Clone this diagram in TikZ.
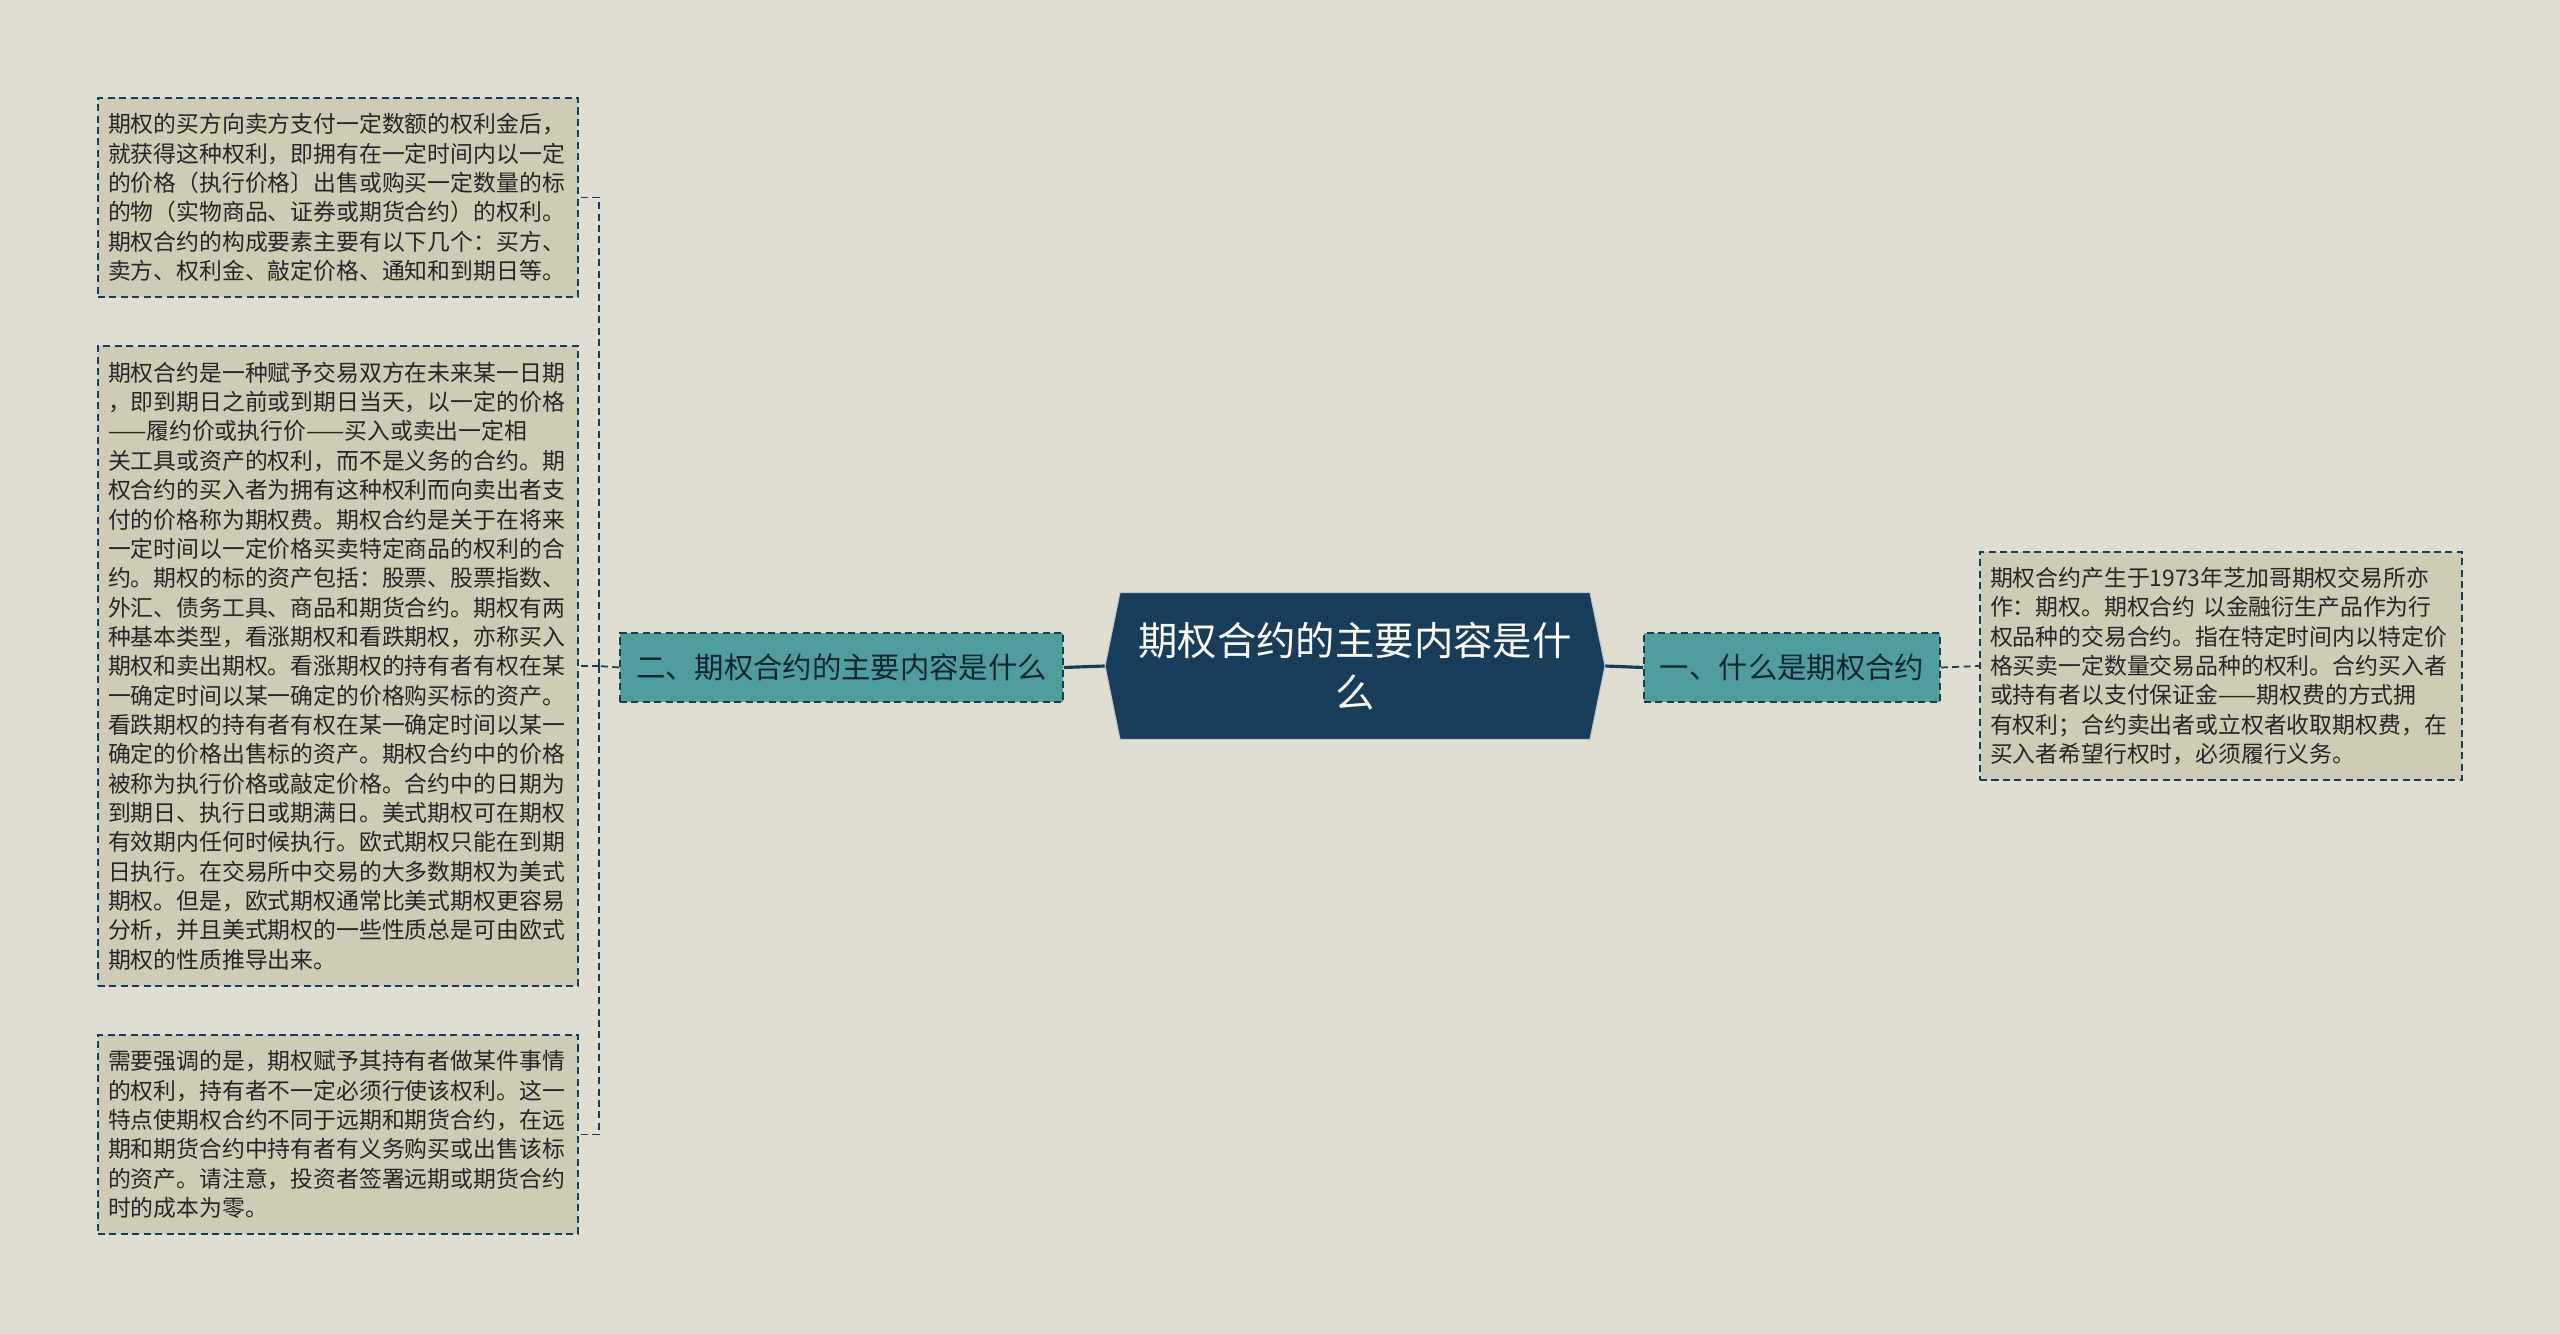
\documentclass[tikz,border=0pt]{standalone}
\usepackage{fontspec}
\usepackage{xcolor}
\usepackage{tikz}
\setmainfont{Noto Sans CJK SC}
\definecolor{pagebg}{RGB}{223,222,208}
\definecolor{boxfill}{RGB}{206,204,180}
\definecolor{teal}{RGB}{80,158,155}
\definecolor{navy}{RGB}{23,61,91}
\definecolor{ink}{RGB}{38,38,38}

\tikzset{
	leafbox/.style={draw=navy,dashed,line width=0.9pt,dash pattern=on 4pt off 2.5pt,fill=boxfill,text=ink,align=left,inner sep=0.2cm,text width=9.2cm,font=\fontsize{13}{16.7}\selectfont},
	branchbox/.style={draw=navy,dashed,line width=0.9pt,dash pattern=on 4pt off 2.5pt,fill=teal,text=navy!60!black,minimum height=1.38cm,inner sep=0pt,font=\fontsize{16.7}{20}\selectfont},
	rootbox/.style={text=white,align=center,minimum width=10cm,minimum height=2.94cm,inner sep=0pt,font=\fontsize{22.4}{29.7}\selectfont},
	link/.style={draw=navy,line width=1.8pt},
	dlink/.style={draw=navy,line width=1pt,dash pattern=on 4pt off 2.5pt}
}

\begin{document}
\begin{tikzpicture}[x=0.02cm,y=-0.02cm]
					\useasboundingbox (0,0) rectangle (2560,1334);
					\fill[pagebg] (0,0) rectangle (2560,1334);
					\coordinate (rootc) at (1355,666);
					\coordinate (lfork) at (599,666);
					
					\fill[navy,draw=white!70!navy,line width=0.6pt] ([xshift=-5cm]rootc) -- ([xshift=-4.7cm,yshift=1.47cm]rootc) -- ([xshift=4.7cm,yshift=1.47cm]rootc) -- ([xshift=5cm]rootc) -- ([xshift=4.7cm,yshift=-1.47cm]rootc) -- ([xshift=-4.7cm,yshift=-1.47cm]rootc) -- cycle;
					\node (root) at (rootc) [rootbox] {期权合约的主要内容是什\\么};
					
					\node (lbranch) at (841.5,667.5) [branchbox,minimum width=8.86cm] {二、期权合约的主要内容是什么};
					\node (rbranch) at (1792,667.5) [branchbox,minimum width=5.92cm] {一、什么是期权合约};
					
					\node (lleaf1) at (338,197.5) [leafbox,minimum height=3.98cm] {期权的买方向卖方支付一定数额的权利金后，\\就获得这种权利，即拥有在一定时间内以一定\\的价格（执行价格〕出售或购买一定数量的标\\的物（实物商品、证券或期货合约）的权利。\\期权合约的构成要素主要有以下几个：买方、\\卖方、权利金、敲定价格、通知和到期日等。};
					\node (lleaf2) at (338,666) [leafbox,minimum height=12.8cm] {期权合约是一种赋予交易双方在未来某一日期\\，即到期日之前或到期日当天，以一定的价格\\——履约价或执行价——买入或卖出一定相\\关工具或资产的权利，而不是义务的合约。期\\权合约的买入者为拥有这种权利而向卖出者支\\付的价格称为期权费。期权合约是关于在将来\\一定时间以一定价格买卖特定商品的权利的合\\约。期权的标的资产包括：股票、股票指数、\\外汇、债务工具、商品和期货合约。期权有两\\种基本类型，看涨期权和看跌期权，亦称买入\\期权和卖出期权。看涨期权的持有者有权在某\\一确定时间以某一确定的价格购买标的资产。\\看跌期权的持有者有权在某一确定时间以某一\\确定的价格出售标的资产。期权合约中的价格\\被称为执行价格或敲定价格。合约中的日期为\\到期日、执行日或期满日。美式期权可在期权\\有效期内任何时候执行。欧式期权只能在到期\\日执行。在交易所中交易的大多数期权为美式\\期权。但是，欧式期权通常比美式期权更容易\\分析，并且美式期权的一些性质总是可由欧式\\期权的性质推导出来。};
					\node (lleaf3) at (338,1134.5) [leafbox,minimum height=3.98cm] {需要强调的是，期权赋予其持有者做某件事情\\的权利，持有者不一定必须行使该权利。这一\\特点使期权合约不同于远期和期货合约，在远\\期和期货合约中持有者有义务购买或出售该标\\的资产。请注意，投资者签署远期或期货合约\\时的成本为零。};
					\node (rleaf1) at (2221,666) [leafbox,minimum height=4.56cm,text width=9.24cm] {期权合约产生于1973年芝加哥期权交易所亦\\作：期权。期权合约 以金融衍生产品作为行\\权品种的交易合约。指在特定时间内以特定价\\格买卖一定数量交易品种的权利。合约买入者\\或持有者以支付保证金——期权费的方式拥\\有权利；合约卖出者或立权者收取期权费，在\\买入者希望行权时，必须履行义务。};
					
					\draw[link] (root.west) to (lbranch.east);
					\draw[link] (root.east) to (rbranch.west);
					\draw[dlink] (lbranch.west) to (lfork);
					\draw[dlink] (lfork) |- (lleaf1.east);
					\draw[dlink] (lfork) to (lleaf2.east);
					\draw[dlink] (lfork) |- (lleaf3.east);
					\draw[dlink] (rbranch.east) to (rleaf1.west);
					
				\end{tikzpicture}
\end{document}
